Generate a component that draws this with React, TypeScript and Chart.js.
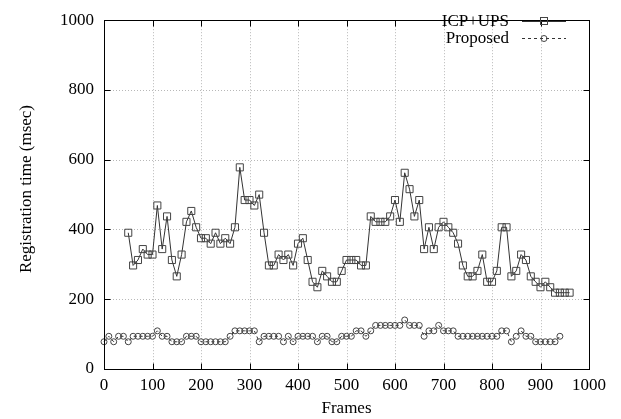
import React, { useEffect, useRef } from "react";
import { Chart, registerables } from "chart.js";

Chart.register(...registerables);

const framesICP = [
  50, 60, 70, 80, 90, 100, 110, 120, 130, 140, 150, 160, 170, 180, 190, 200, 210, 220, 230, 240,
  250, 260, 270, 280, 290, 300, 310, 320, 330, 340, 350, 360, 370, 380, 390, 400, 410, 420, 430, 440,
  450, 460, 470, 480, 490, 500, 510, 520, 530, 540, 550, 560, 570, 580, 590, 600, 610, 620, 630, 640,
  650, 660, 670, 680, 690, 700, 710, 720, 730, 740, 750, 760, 770, 780, 790, 800, 810, 820, 830, 840,
  850, 860, 870, 880, 890, 900, 910, 920, 930, 940, 950, 960,
];
const icpValues = [
  390.6, 296.9, 312.5, 343.8, 328.1, 328.1, 468.8, 343.8, 437.5, 312.5, 265.6, 328.1, 421.9, 453.1, 406.3, 375, 375, 359.4, 390.6, 359.4,
  375, 359.4, 406.3, 578.1, 484.4, 484.4, 468.8, 500, 390.6, 296.9, 296.9, 328.1, 312.5, 328.1, 296.9, 359.4, 375, 312.5, 250, 234.4,
  281.3, 265.6, 250, 250, 281.3, 312.5, 312.5, 312.5, 296.9, 296.9, 437.5, 421.9, 421.9, 421.9, 437.5, 484.4, 421.9, 562.5, 515.6, 437.5,
  484.4, 343.8, 406.3, 343.8, 406.3, 421.9, 406.3, 390.6, 359.4, 296.9, 265.6, 265.6, 281.3, 328.1, 250, 250, 281.3, 406.3, 406.3, 265.6,
  281.3, 328.1, 312.5, 265.6, 250, 234.4, 250, 234.4, 218.8, 218.8, 218.8, 218.8,
];

const framesProposed = [
  0, 10, 20, 30, 40, 50, 60, 70, 80, 90, 100, 110, 120, 130, 140, 150, 160, 170, 180, 190,
  200, 210, 220, 230, 240, 250, 260, 270, 280, 290, 300, 310, 320, 330, 340, 350, 360, 370, 380, 390,
  400, 410, 420, 430, 440, 450, 460, 470, 480, 490, 500, 510, 520, 530, 540, 550, 560, 570, 580, 590,
  600, 610, 620, 630, 640, 650, 660, 670, 680, 690, 700, 710, 720, 730, 740, 750, 760, 770, 780, 790,
  800, 810, 820, 830, 840, 850, 860, 870, 880, 890, 900, 910, 920, 930, 940,
];
const proposedValues = [
  78.1, 93.8, 78.1, 93.8, 93.8, 78.1, 93.8, 93.8, 93.8, 93.8, 93.8, 109.4, 93.8, 93.8, 78.1, 78.1, 78.1, 93.8, 93.8, 93.8,
  78.1, 78.1, 78.1, 78.1, 78.1, 78.1, 93.8, 109.4, 109.4, 109.4, 109.4, 109.4, 78.1, 93.8, 93.8, 93.8, 93.8, 78.1, 93.8, 78.1,
  93.8, 93.8, 93.8, 93.8, 78.1, 93.8, 93.8, 78.1, 78.1, 93.8, 93.8, 93.8, 109.4, 109.4, 93.8, 109.4, 125, 125, 125, 125,
  125, 125, 140.6, 125, 125, 125, 93.8, 109.4, 109.4, 125, 109.4, 109.4, 109.4, 93.8, 93.8, 93.8, 93.8, 93.8, 93.8, 93.8,
  93.8, 93.8, 109.4, 109.4, 78.1, 93.8, 109.4, 93.8, 93.8, 78.1, 78.1, 78.1, 78.1, 78.1, 93.8,
];

const xTicks = [0, 100, 200, 300, 400, 500, 600, 700, 800, 900, 1000];
const yTicks = [0, 200, 400, 600, 800, 1000];
const seriesNames = ["ICP+UPS", "Proposed"];
const xTitle = "Frames";
const yTitle = "Registration time (msec)";

const FONT = "'Liberation Serif', 'DejaVu Serif', serif";

const framePlugin = {
  id: "gnuplotFrame",
  beforeDatasetsDraw(chart: any) {
    const { ctx, chartArea: a, scales } = chart;
    ctx.save();
    ctx.strokeStyle = "#b8b8b8";
    ctx.lineWidth = 1;
    ctx.setLineDash([1, 2]);
    xTicks.forEach((v) => {
      if (v === 0 || v === 1000) return;
      const x = Math.round(scales.x.getPixelForValue(v)) + 0.5;
      ctx.beginPath();
      ctx.moveTo(x, a.top);
      ctx.lineTo(x, a.bottom);
      ctx.stroke();
    });
    yTicks.forEach((v) => {
      if (v === 0 || v === 1000) return;
      const y = Math.round(scales.y.getPixelForValue(v)) + 0.5;
      ctx.beginPath();
      ctx.moveTo(a.left, y);
      ctx.lineTo(a.right, y);
      ctx.stroke();
    });
    ctx.restore();
  },
  afterDatasetsDraw(chart: any) {
    const { ctx, chartArea: a, scales } = chart;
    ctx.save();
    ctx.setLineDash([]);
    ctx.strokeStyle = "#000";
    ctx.lineWidth = 1;
    const L = Math.round(a.left) + 0.5;
    const R = Math.round(a.right) + 0.5;
    const T = Math.round(a.top) + 0.5;
    const B = Math.round(a.bottom) + 0.5;
    ctx.strokeRect(L, T, R - L, B - T);
    const tl = 6;
    xTicks.forEach((v) => {
      const x = Math.round(scales.x.getPixelForValue(v)) + 0.5;
      ctx.beginPath();
      ctx.moveTo(x, B);
      ctx.lineTo(x, B - tl);
      ctx.moveTo(x, T);
      ctx.lineTo(x, T + tl);
      ctx.stroke();
    });
    yTicks.forEach((v) => {
      const y = Math.round(scales.y.getPixelForValue(v)) + 0.5;
      ctx.beginPath();
      ctx.moveTo(L, y);
      ctx.lineTo(L + tl, y);
      ctx.moveTo(R, y);
      ctx.lineTo(R - tl, y);
      ctx.stroke();
    });

    // legend
    ctx.font = `17px ${FONT}`;
    ctx.fillStyle = "#000";
    ctx.textAlign = "right";
    ctx.textBaseline = "middle";
    const rows = [
      { y: 21, dash: [] as number[], style: "rect" },
      { y: 38, dash: [3, 3], style: "circle" },
    ];
    rows.forEach((r, i) => {
      ctx.fillText(seriesNames[i], 509, r.y + 1);
      ctx.strokeStyle = "#333";
      ctx.setLineDash(r.dash);
      ctx.beginPath();
      ctx.moveTo(522, r.y + 0.5);
      ctx.lineTo(566, r.y + 0.5);
      ctx.stroke();
      ctx.setLineDash([]);
      ctx.strokeStyle = "#444";
      if (r.style === "rect") {
        ctx.strokeRect(540.5, r.y - 3.5, 7, 7);
      } else {
        ctx.beginPath();
        ctx.arc(544, r.y + 0.5, 3, 0, Math.PI * 2);
        ctx.stroke();
      }
    });

    // axis titles
    ctx.fillStyle = "#000";
    ctx.textAlign = "center";
    ctx.textBaseline = "middle";
    ctx.fillText(xTitle, (a.left + a.right) / 2, 409);
    ctx.translate(27, 189);
    ctx.rotate(-Math.PI / 2);
    ctx.fillText(yTitle, 0, 0);
    ctx.restore();
  },
};

export default function App() {
  const ref = useRef<HTMLCanvasElement | null>(null);
  useEffect(() => {
    if (!ref.current) return;
    const chart = new Chart(ref.current, {
      type: "line",
      data: {
        datasets: [
          {
            label: seriesNames[0],
            data: framesICP.map((f, i) => ({ x: f, y: icpValues[i] })),
            borderColor: "#333",
            borderWidth: 1,
            pointStyle: "rect",
            pointRadius: 5,
            pointBorderWidth: 1,
            pointBorderColor: "#444",
            pointBackgroundColor: "rgba(0,0,0,0)",
            tension: 0,
            clip: false as any,
          },
          {
            label: seriesNames[1],
            data: framesProposed.map((f, i) => ({ x: f, y: proposedValues[i] })),
            borderColor: "#333",
            borderWidth: 1,
            borderDash: [3, 3],
            pointStyle: "circle",
            pointRadius: 3,
            pointBorderWidth: 1,
            pointBorderColor: "#444",
            pointBackgroundColor: "rgba(0,0,0,0)",
            tension: 0,
            clip: false as any,
          },
        ],
      },
      options: {
        animation: false,
        responsive: false,
        events: [],
        layout: { padding: { left: 0, top: 13, right: 32, bottom: 0 } },
        plugins: { legend: { display: false }, tooltip: { enabled: false } },
        scales: {
          x: {
            type: "linear",
            min: 0,
            max: 1000,
            afterFit: (s: any) => {
              s.height = 50;
            },
            afterBuildTicks: (s: any) => {
              s.ticks = xTicks.map((v) => ({ value: v }));
            },
            ticks: {
              autoSkip: false,
              maxRotation: 0,
              padding: 6,
              color: "#000",
              font: { family: FONT, size: 17 },
              callback: (v: any) => String(v),
            },
            grid: { display: false, drawTicks: false },
            border: { display: false },
          },
          y: {
            type: "linear",
            min: 0,
            max: 1000,
            afterFit: (s: any) => {
              s.width = 104;
            },
            afterBuildTicks: (s: any) => {
              s.ticks = yTicks.map((v) => ({ value: v }));
            },
            ticks: {
              padding: 10,
              color: "#000",
              font: { family: FONT, size: 17 },
              callback: (v: any) => String(v),
            },
            grid: { display: false, drawTicks: false },
            border: { display: false },
          },
        },
      },
      plugins: [framePlugin],
    });
    return () => chart.destroy();
  }, []);
  return (
    <div style={{ position: "absolute", left: 0, top: 0, width: 621, height: 419, background: "#fff" }}>
      <canvas ref={ref} width={621} height={419} style={{ width: 621, height: 419 }} />
    </div>
  );
}
